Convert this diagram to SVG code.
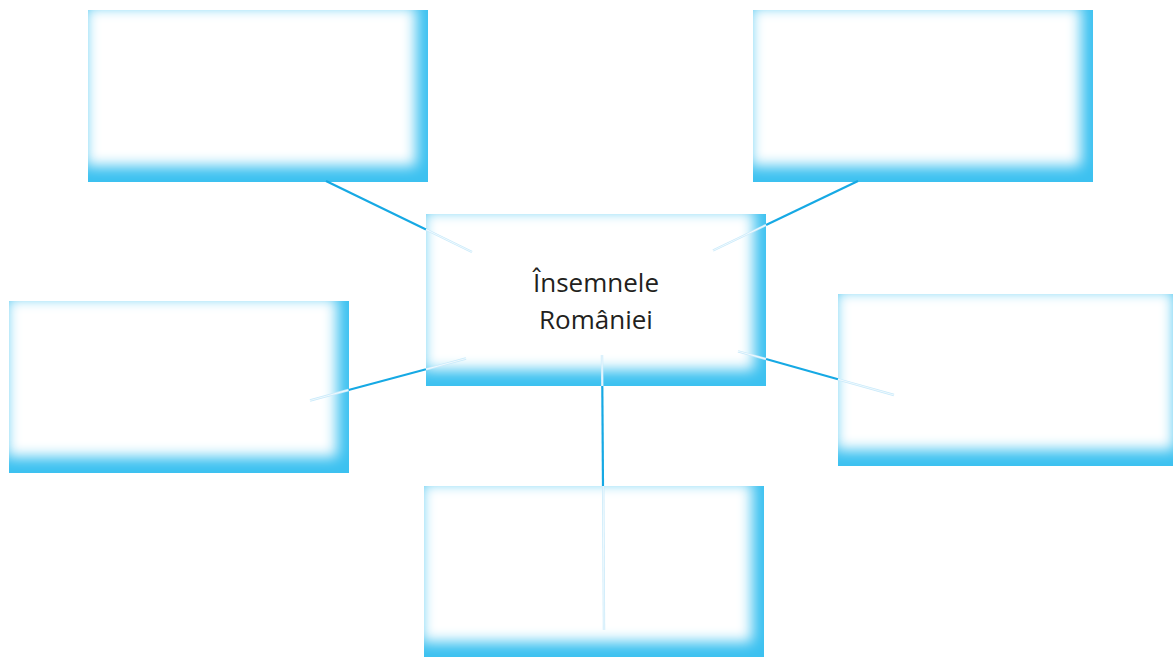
<svg xmlns="http://www.w3.org/2000/svg" width="1173" height="657" viewBox="0 0 1173 657">
<style>
.edge{fill:#3cc1f0}
.core{fill:#ffffff}
.solid{stroke:#16a9e4;stroke-width:2.2;fill:none;stroke-linecap:butt}
.ghost{stroke:#c9eafa;stroke-width:2.4;fill:none}
.ghostin{stroke:#ffffff;stroke-width:0.7;fill:none}
.label{font-family:"Open Sans","Noto Sans","Liberation Sans",sans-serif;font-size:26px;fill:#231f20;text-anchor:middle}
</style>
<defs>
<filter id="soft" x="-20%" y="-30%" width="140%" height="160%">
<feGaussianBlur stdDeviation="7"/>
</filter>
<clipPath id="clipStd"><rect x="0" y="0" width="340" height="172"/></clipPath>
<clipPath id="clipWide"><rect x="0" y="0" width="348" height="172"/></clipPath>
</defs>
<rect width="1173" height="657" fill="#ffffff"/>

<g id="node-top-left" transform="translate(88,10)">
<g clip-path="url(#clipStd)"><rect class="edge" width="340" height="172"/><rect class="core" x="-2.5" y="-3.5" width="330.5" height="159.5" filter="url(#soft)"/></g>
</g>
<g id="node-top-right" transform="translate(753,10)">
<g clip-path="url(#clipStd)"><rect class="edge" width="340" height="172"/><rect class="core" x="-2.5" y="-3.5" width="330.5" height="159.5" filter="url(#soft)"/></g>
</g>
<g id="node-left" transform="translate(9,301)">
<g clip-path="url(#clipStd)"><rect class="edge" width="340" height="172"/><rect class="core" x="-2.5" y="-3.5" width="330.5" height="159.5" filter="url(#soft)"/></g>
</g>
<g id="node-right" transform="translate(838,294)">
<g clip-path="url(#clipWide)"><rect class="edge" width="348" height="172"/><rect class="core" x="-2.5" y="-3.5" width="338.5" height="159.5" filter="url(#soft)"/></g>
</g>
<g id="node-bottom" transform="translate(424,486)">
<g clip-path="url(#clipStd)"><rect class="edge" width="340" height="172"/><rect class="core" x="-2.5" y="-3.5" width="330.5" height="159.5" filter="url(#soft)"/></g>
</g>
<g id="node-center" transform="translate(426,214)">
<g clip-path="url(#clipStd)"><rect class="edge" width="340" height="172"/><rect class="core" x="-2.5" y="-3.5" width="330.5" height="159.5" filter="url(#soft)"/></g>
<text class="label" x="170" y="78">Însemnele</text>
<text class="label" x="170" y="115">României</text>
</g>

<g id="connectors">
<line class="solid" x1="326" y1="181" x2="426" y2="229.5"/>
<line class="ghost" x1="426" y1="229.5" x2="472" y2="252"/>
<line class="ghostin" x1="426" y1="229.5" x2="472" y2="252"/>

<line class="solid" x1="858" y1="181" x2="766" y2="225"/>
<line class="ghost" x1="766" y1="225" x2="713" y2="250.5"/>
<line class="ghostin" x1="766" y1="225" x2="713" y2="250.5"/>

<line class="solid" x1="348.5" y1="390" x2="426" y2="369.3"/>
<line class="ghost" x1="348.5" y1="390" x2="310" y2="400.5"/>
<line class="ghostin" x1="348.5" y1="390" x2="310" y2="400.5"/>
<line class="ghost" x1="426" y1="369.3" x2="466" y2="358.5"/>
<line class="ghostin" x1="426" y1="369.3" x2="466" y2="358.5"/>

<line class="solid" x1="766" y1="359" x2="838" y2="379.3"/>
<line class="ghost" x1="838" y1="379.3" x2="894" y2="395"/>
<line class="ghostin" x1="838" y1="379.3" x2="894" y2="395"/>
<line class="ghost" x1="766" y1="359" x2="738" y2="351.3"/>
<line class="ghostin" x1="766" y1="359" x2="738" y2="351.3"/>

<line class="solid" x1="602.3" y1="386" x2="603" y2="486"/>
<line class="ghost" x1="602.3" y1="386" x2="602" y2="355"/>
<line class="ghostin" x1="602.3" y1="386" x2="602" y2="355"/>
<line class="ghost" x1="603.2" y1="486" x2="604" y2="630"/>
<line class="ghostin" x1="603.2" y1="486" x2="604" y2="630"/>
</g>
</svg>
